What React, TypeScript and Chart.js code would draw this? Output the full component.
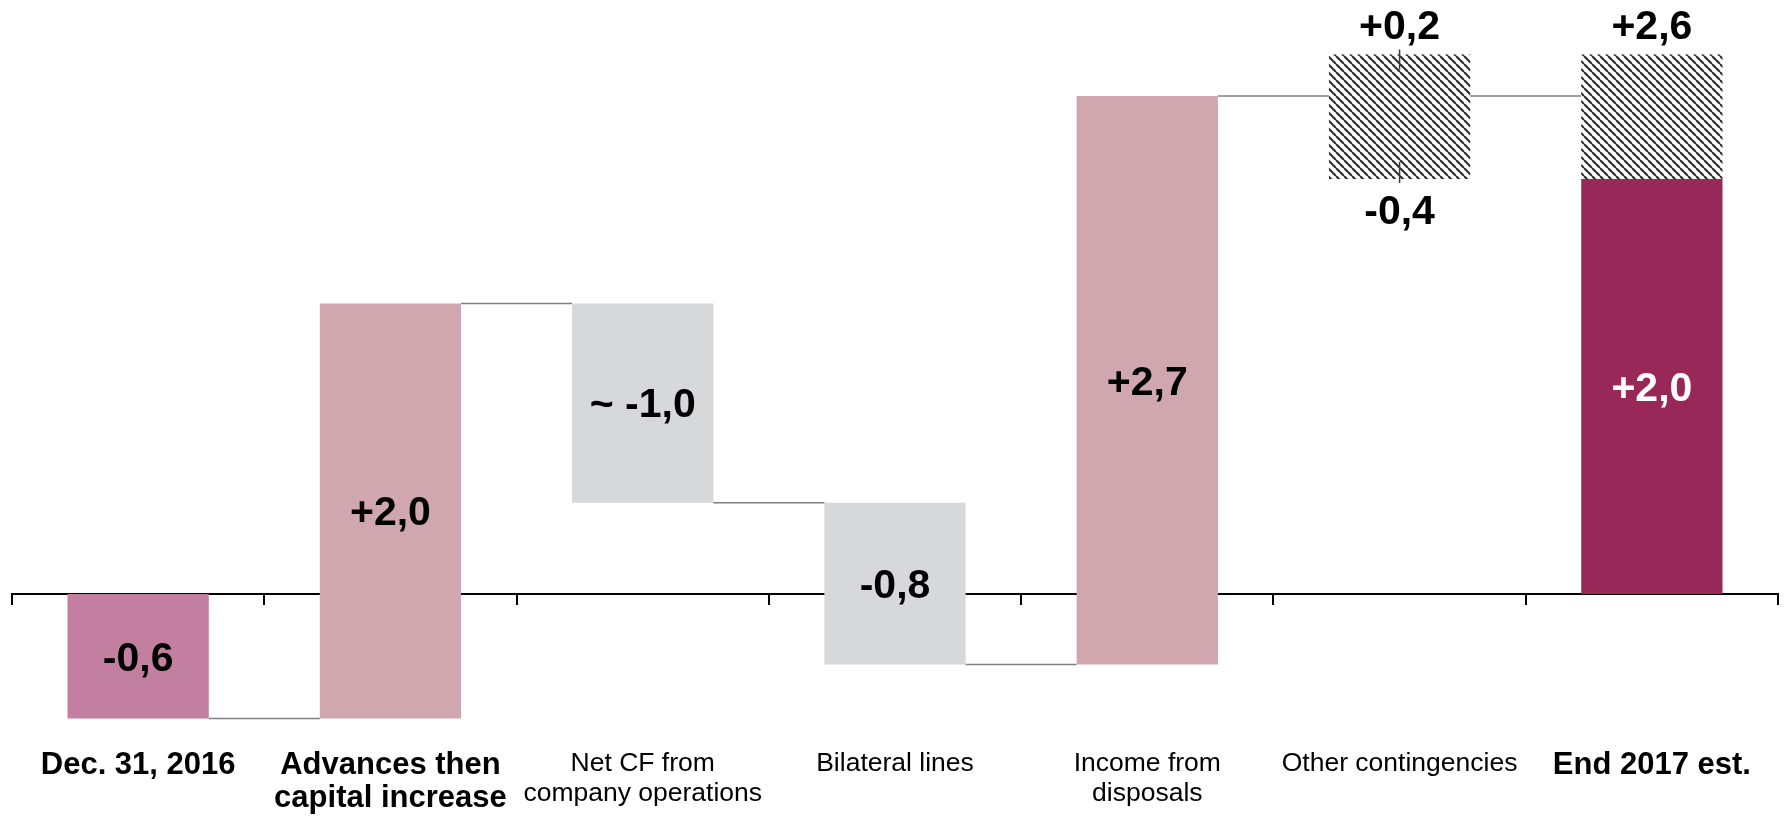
import { useEffect, useRef } from 'react';
import { Chart, registerables } from 'chart.js';

Chart.register(...registerables);

// Categories along the bottom axis (arrays are wrapped lines)
const categories: (string | string[])[] = [
  'Dec. 31, 2016',
  ['Advances then', 'capital increase'],
  ['Net CF from', 'company operations'],
  'Bilateral lines',
  ['Income from', 'disposals'],
  'Other contingencies',
  'End 2017 est.',
];
const boldCategories = [true, true, false, false, false, false, true];

// Liquidity bridge values (bn)
const openingBalance = -0.6;
const movementValues = [2.0, -0.96, -0.78, 2.74];
const approximateMovement = [false, true, false, false];
const contingencyUpside = 0.2;
const contingencyDownside = -0.4;

const FONT = "'Liberation Sans', Arial, Helvetica, sans-serif";
const COLOR_OPENING = '#C27F9F';
const COLOR_INCREASE = '#D0A7AF';
const COLOR_DECREASE = '#D7D8DA';
const COLOR_CLOSING = '#982857';
const CONNECTOR = '#7F7F7F';

const fmt = (v: number) => (v > 0 ? '+' : '') + v.toFixed(1).replace('.', ',');

// Build floating ranges for the waterfall
type Range = [number, number] | null;
const solidRanges: Range[] = [];
const solidColors: string[] = [];
const solidLabels: string[] = [];
const levels: number[] = [];
let running = openingBalance;
solidRanges.push([0, openingBalance]);
solidColors.push(COLOR_OPENING);
solidLabels.push(fmt(openingBalance));
levels.push(running);
movementValues.forEach((v, i) => {
  solidRanges.push([running, running + v]);
  solidColors.push(v >= 0 ? COLOR_INCREASE : COLOR_DECREASE);
  solidLabels.push((approximateMovement[i] ? '~ ' : '') + fmt(v));
  running += v;
  levels.push(running);
});
const upperBound = running + contingencyUpside;
const lowerBound = running + contingencyDownside;
solidRanges.push(null);
solidColors.push('transparent');
solidLabels.push('');
levels.push(running);
solidRanges.push([0, lowerBound]);
solidColors.push(COLOR_CLOSING);
solidLabels.push(fmt(lowerBound));

const hatchRanges: Range[] = categories.map(() => null);
hatchRanges[5] = [lowerBound, upperBound];
hatchRanges[6] = [lowerBound, upperBound];

function makeHatch(): CanvasPattern | string {
  const size = 8;
  const c = document.createElement('canvas');
  c.width = size;
  c.height = size;
  const g = c.getContext('2d');
  if (!g) return '#888';
  g.fillStyle = '#ffffff';
  g.fillRect(0, 0, size, size);
  g.strokeStyle = '#2a2a2a';
  g.lineWidth = 2;
  for (const k of [-size, 0, size]) {
    g.beginPath();
    g.moveTo(k, 0);
    g.lineTo(k + size, size);
    g.stroke();
  }
  return g.createPattern(c, 'repeat') ?? '#888';
}

const bridgePlugin = {
  id: 'bridgeDecorations',
  afterDatasetsDraw(chart: any) {
    const { ctx } = chart;
    const yScale = chart.scales.y;
    const solidMeta = chart.getDatasetMeta(0);
    const hatchMeta = chart.getDatasetMeta(1);
    const barAt = (i: number) => (solidRanges[i] ? solidMeta.data[i] : hatchMeta.data[i]);

    ctx.save();
    // connectors between consecutive bars
    ctx.strokeStyle = CONNECTOR;
    ctx.lineWidth = 1.6;
    for (let i = 0; i < levels.length; i++) {
      const a = barAt(i);
      const b = barAt(i + 1);
      if (!a || !b) continue;
      const y = yScale.getPixelForValue(levels[i]);
      ctx.beginPath();
      ctx.moveTo(a.x + a.width / 2, y);
      ctx.lineTo(b.x - b.width / 2, y);
      ctx.stroke();
    }

    // range markers on the contingency box
    const oc = hatchMeta.data[5];
    const ocTop = yScale.getPixelForValue(upperBound);
    const ocBottom = yScale.getPixelForValue(lowerBound);
    ctx.strokeStyle = '#3a3a3a';
    ctx.lineWidth = 1.5;
    ctx.beginPath();
    ctx.moveTo(oc.x, ocTop - 5);
    ctx.lineTo(oc.x, ocTop + 15);
    ctx.moveTo(oc.x, ocBottom - 17);
    ctx.lineTo(oc.x, ocBottom + 4);
    ctx.stroke();

    // value labels
    ctx.font = `bold 41px ${FONT}`;
    ctx.textAlign = 'center';
    ctx.textBaseline = 'middle';
    solidRanges.forEach((r, i) => {
      if (!r) return;
      const el = solidMeta.data[i];
      ctx.fillStyle = i === solidRanges.length - 1 ? '#ffffff' : '#000000';
      ctx.fillText(solidLabels[i], el.x, (el.y + el.base) / 2 + 3);
    });
    ctx.fillStyle = '#000000';
    ctx.fillText(fmt(contingencyUpside), oc.x, ocTop - 27);
    ctx.fillText(fmt(contingencyDownside), oc.x, ocBottom + 34);
    const endEl = hatchMeta.data[6];
    ctx.fillText(fmt(upperBound), endEl.x, yScale.getPixelForValue(upperBound) - 27);
    ctx.restore();
  },
};

export default function App() {
  const canvasRef = useRef<HTMLCanvasElement | null>(null);

  useEffect(() => {
    if (!canvasRef.current) return;
    const chart = new Chart(canvasRef.current, {
      type: 'bar',
      data: {
        labels: categories,
        datasets: [
          {
            label: 'Bridge',
            data: solidRanges as any,
            backgroundColor: solidColors,
            borderWidth: 0,
            grouped: false,
            barPercentage: 0.56,
            categoryPercentage: 1,
          },
          {
            label: 'Contingencies',
            data: hatchRanges as any,
            backgroundColor: makeHatch() as any,
            borderWidth: 0,
            grouped: false,
            barPercentage: 0.56,
            categoryPercentage: 1,
          },
        ],
      },
      options: {
        responsive: true,
        maintainAspectRatio: false,
        animation: false,
        layout: { padding: { left: 12, right: 6, top: 13, bottom: 59 } },
        plugins: { legend: { display: false }, tooltip: { enabled: false } },
        scales: {
          x: {
            position: { y: 0 } as any,
            offset: true,
            grid: {
              offset: true,
              drawOnChartArea: false,
              drawTicks: true,
              tickLength: 10,
              color: '#000000',
              lineWidth: 2,
            },
            border: { display: true, color: '#000000', width: 2 },
            ticks: {
              autoSkip: false,
              maxRotation: 0,
              minRotation: 0,
              padding: 145,
              color: '#000000',
              font: (ctx: any) =>
                boldCategories[ctx.index]
                  ? { family: FONT, size: 31, weight: 'bold', lineHeight: 1.07 }
                  : { family: FONT, size: 26.5, weight: 'normal', lineHeight: 1.13 },
            },
            // labels sit well below the zero line; keep them from shrinking the plot width
            afterFit: (scale: any) => {
              scale.paddingLeft = 0;
              scale.paddingRight = 0;
            },
          },
          y: { display: false, min: -0.8, max: 2.8 },
        },
      },
      plugins: [bridgePlugin],
    });
    return () => chart.destroy();
  }, []);

  return (
    <div style={{ position: 'absolute', left: 0, top: 0, width: 1784, height: 819 }}>
      <canvas ref={canvasRef} />
    </div>
  );
}
